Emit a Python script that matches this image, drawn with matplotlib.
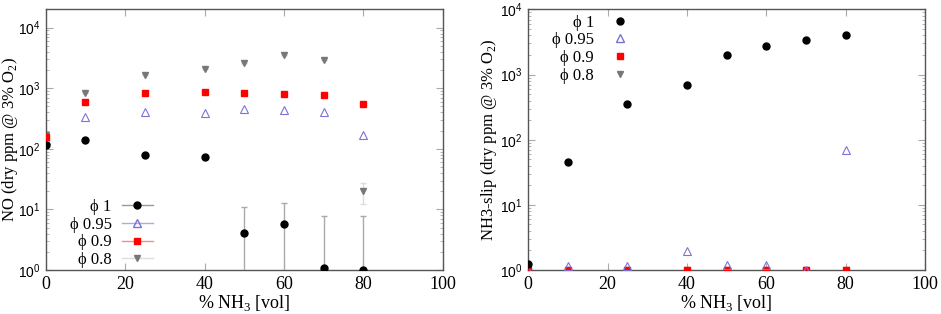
import numpy as np
import matplotlib
matplotlib.use("Agg")
import matplotlib.pyplot as plt
from matplotlib.lines import Line2D
from matplotlib.ticker import FuncFormatter, LogLocator, MultipleLocator

plt.rcParams['font.family'] = ['Liberation Serif', 'DejaVu Serif']
plt.rcParams['mathtext.fontset'] = 'custom'
plt.rcParams['mathtext.rm'] = 'Liberation Serif'
plt.rcParams['mathtext.sf'] = 'Liberation Sans'

# NH3 share in fuel (% vol)
nh3 = [0, 10, 25, 40, 50, 60, 70, 80]

# NO emissions (left panel)
no_phi1 = [116, 138, 78, 74, 4.1, 5.7, 1.1, 1.0]
no_phi1_err = [0, 0, 0, 0, 6.7, 6.9, 6.7, 6.8]
no_phi095 = [140, 339, 408, 394, 447, 436, 408, 171]
no_phi09 = [155, 600, 823, 875, 830, 790, 770, 540]
no_phi08 = [168, 823, 1630, 2040, 2570, 3480, 2920, 20]
no_phi08_err = [0, 0, 0, 0, 0, 0, 0, 7.5]

# NH3 slip (right panel)
slip_phi1 = [1.22, 46, 348, 680, 2030, 2740, 3390, 3980]
slip_phi095 = [1.0, 1.17, 1.15, 1.98, 1.19, 1.2, 1.0, 69]
slip_phi09 = [1, 1, 1, 1, 1, 1, 1, 1]
slip_phi08 = [1, 1, 1, 1, 1, 1, 1, 1]

labels = ["\u03d5 1", "\u03d5 0.95", "\u03d5 0.9", "\u03d5 0.8"]

c_black = "#000000"
c_blue = "#7b72d6"
c_red = "#ff0000"
c_grey = "#777777"

fig = plt.figure(figsize=(9.41, 3.14), dpi=100)
ax1 = fig.add_axes([0.0486, 0.140, 0.4219, 0.830])
ax2 = fig.add_axes([0.5614, 0.140, 0.4216, 0.830])


def style_axis(ax, ymax):
    ax.set_yscale('log')
    ax.set_xlim(0, 100)
    ax.set_ylim(1, ymax)
    ax.xaxis.set_major_locator(MultipleLocator(20))
    ax.yaxis.set_major_locator(LogLocator(base=10))
    ax.yaxis.set_minor_locator(LogLocator(base=10, subs=np.arange(2, 10)))
    ax.yaxis.set_major_formatter(FuncFormatter(lambda v, p: r'$\mathsf{10^{%d}}$' % round(np.log10(v))))
    ax.yaxis.set_minor_formatter(FuncFormatter(lambda v, p: ''))
    ax.tick_params(which='both', direction='in', top=True, right=True, color='#aaaaaa')
    ax.tick_params(which='major', length=5, width=0.8)
    ax.tick_params(which='minor', length=2.5, width=0.6)
    ax.tick_params(axis='x', labelsize=13, pad=4)
    ax.tick_params(axis='y', labelsize=10, pad=4)
    for s in ax.spines.values():
        s.set_color('#555555')
        s.set_linewidth(1.0)
    ax.set_xlabel(r'% NH$_3$ [vol]', fontsize=13, labelpad=0)


# left panel: NO
style_axis(ax1, 2e4)
ax1.errorbar(nh3, no_phi1, yerr=no_phi1_err, fmt='o', color=c_black, ms=5,
             ecolor='#aaaaaa', elinewidth=1, capsize=2, zorder=4)
ax1.plot(nh3, no_phi095, '^', ms=6, mfc='none', mec=c_blue, mew=0.8, zorder=3)
ax1.plot(nh3, no_phi09, 's', ms=5, color=c_red, zorder=3)
ax1.errorbar(nh3, no_phi08, yerr=no_phi08_err, fmt='v', color=c_grey, ms=5,
             ecolor='#dddddd', elinewidth=1, capsize=2, zorder=2)
ax1.set_ylabel(r'NO (dry ppm @ 3% O$_2$)', fontsize=12)
ax1.yaxis.set_label_coords(-0.066, 0.5)

h1 = [
    Line2D([], [], color='#999999', lw=1, marker='o', ms=5, mfc=c_black, mec=c_black),
    Line2D([], [], color='#aaaaee', lw=1, marker='^', ms=6, mfc='none', mec=c_blue),
    Line2D([], [], color='#ff8888', lw=1, marker='s', ms=5, mfc=c_red, mec=c_red),
    Line2D([], [], color='#dddddd', lw=1, marker='v', ms=5, mfc=c_grey, mec=c_grey),
]
ax1.legend(h1, labels, loc='lower right', bbox_to_anchor=(0.3, -0.037), frameon=False,
           markerfirst=False, fontsize=12, handlelength=1.9, handletextpad=0.6,
           labelspacing=0.1, borderpad=0.2)

# right panel: NH3 slip
style_axis(ax2, 1e4)
ax2.plot(nh3, slip_phi08, 'v', ms=5, color=c_grey, zorder=2)
ax2.plot(nh3, slip_phi09, 's', ms=5, color=c_red, zorder=3)
ax2.plot(nh3, slip_phi095, '^', ms=6, mfc='none', mec=c_blue, mew=0.8, zorder=3)
ax2.plot(nh3, slip_phi1, 'o', ms=5, color=c_black, zorder=4)
ax2.set_ylabel(r'NH3-slip (dry ppm @ 3% O$_2$)', fontsize=12)
ax2.yaxis.set_label_coords(-0.075, 0.5)

h2 = [
    Line2D([], [], ls='none', marker='o', ms=5, mfc=c_black, mec=c_black),
    Line2D([], [], ls='none', marker='^', ms=6, mfc='none', mec=c_blue),
    Line2D([], [], ls='none', marker='s', ms=5, mfc=c_red, mec=c_red),
    Line2D([], [], ls='none', marker='v', ms=5, mfc=c_grey, mec=c_grey),
]
ax2.legend(h2, labels, loc='upper right', bbox_to_anchor=(0.3, 1.025), frameon=False,
           markerfirst=False, fontsize=12, handlelength=1.9, handletextpad=0.6,
           labelspacing=0.1, borderpad=0.2)

fig.savefig('out.png', dpi=100)
